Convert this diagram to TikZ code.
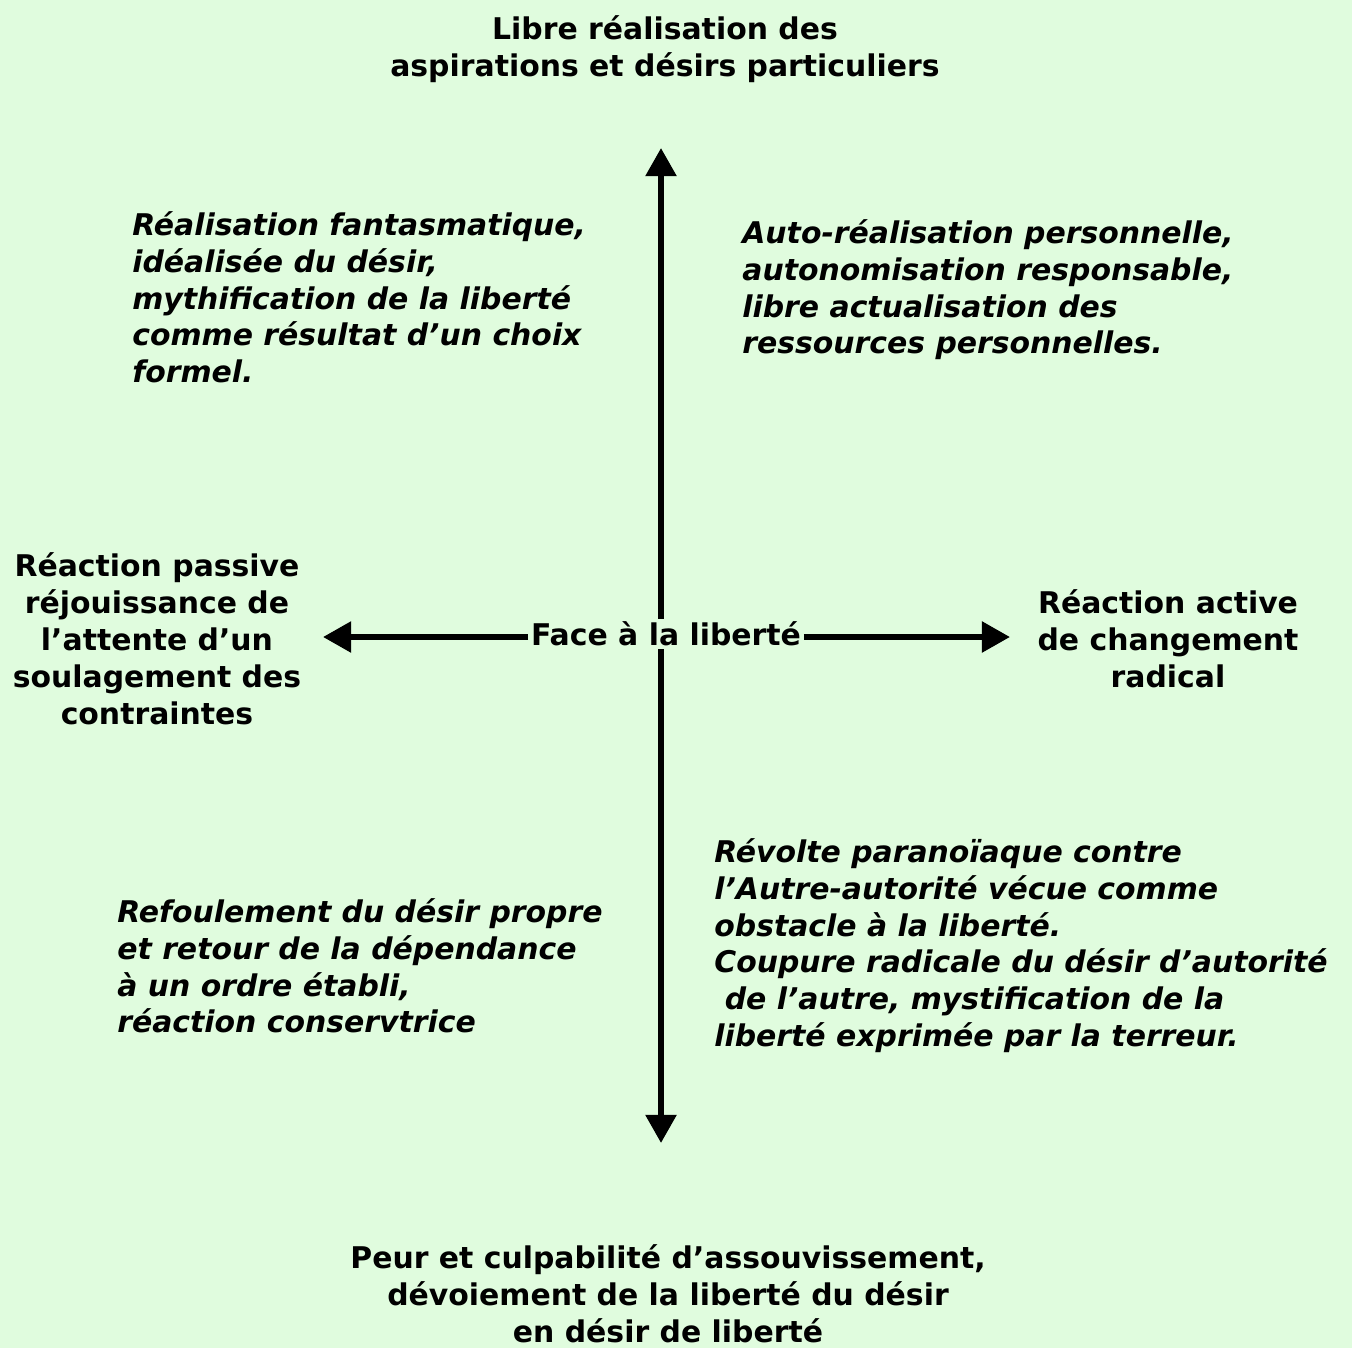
\documentclass[tikz,border=0pt]{standalone}
\usepackage{fontspec}
\setmainfont{DejaVu Sans}
\usepackage{tikz}
\usetikzlibrary{arrows.meta}
\usetikzlibrary{positioning}

\definecolor{fondvert}{RGB}{224,252,222}

\tikzset{
  pole/.style={font=\bfseries\fontsize{17}{21}\selectfont, align=center, inner sep=0pt},
  quadrant/.style={font=\bfseries\itshape\fontsize{17}{21}\selectfont, align=left, anchor=north west, inner sep=0pt},
  axe/.style={line width=3.4pt, -{Triangle[length=16pt,width=17pt]}}
}

\begin{document}
\begin{tikzpicture}[x=0.02cm,y=-0.02cm]
            \fill[fondvert] (0,0) rectangle (1352,1348);
            \useasboundingbox (0,0) rectangle (1352,1348);

            \node[pole] (haut) at (665,49) {Libre réalisation des\\aspirations et désirs particuliers};
            \node[pole] (bas) at (668,1294) {Peur et culpabilité d’assouvissement,\\dévoiement de la liberté du désir\\en désir de liberté};
            \node[pole] (gauche) at (157,639) {Réaction passive\\réjouissance de\\l’attente d’un\\soulagement des\\contraintes};
            \node[pole] (droite) at (1168,639) {Réaction active\\de changement\\radical};

            \node[pole, inner sep=1.5pt] (centre) at (666,634) {Face à la liberté};

            \coordinate (pointeN) at (661,148);
            \coordinate (pointeS) at (661,1143);
            \coordinate (pointeO) at (323,637);
            \coordinate (pointeE) at (1010,637);

            \draw[axe] (centre.north -| pointeN) -- (pointeN);
            \draw[axe] (centre.south -| pointeS) -- (pointeS);
            \draw[axe] (centre.west |- pointeO) -- (pointeO);
            \draw[axe] (centre.east |- pointeE) -- (pointeE);

            % les quatre quadrants
            \node[quadrant] (hautgauche) at (132,211) {Réalisation fantasmatique,\\idéalisée du désir,\\mythification de la liberté\\comme résultat d’un choix\\formel.};
            \node[quadrant] (hautdroite) at (742,219) {Auto-réalisation personnelle,\\autonomisation responsable,\\libre actualisation des\\ressources personnelles.};
            \node[quadrant] (basgauche) at (117,898) {Refoulement du désir propre\\et retour de la dépendance\\à un ordre établi,\\réaction conservtrice};
            \node[quadrant] (basdroite) at (714,838) {Révolte paranoïaque contre\\l’Autre-autorité vécue comme\\obstacle à la liberté.\\Coupure radicale du désir d’autorité\\\hspace{0.35em}de l’autre, mystification de la\\liberté exprimée par la terreur.};
\end{tikzpicture}
\end{document}
